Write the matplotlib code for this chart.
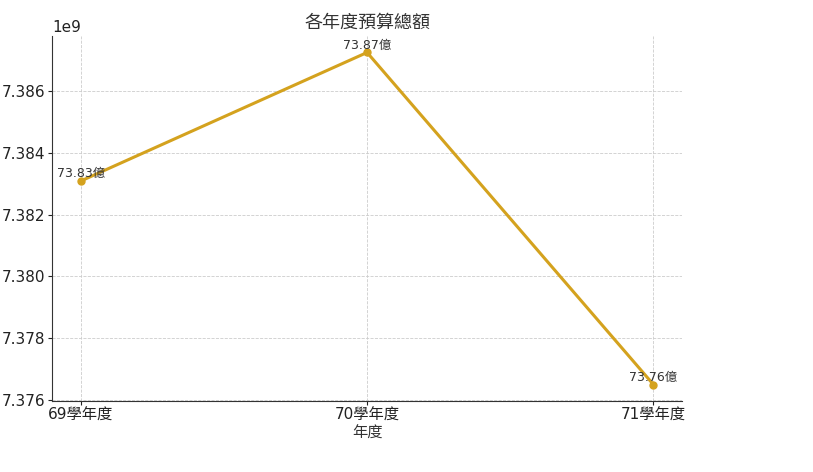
import matplotlib
matplotlib.use("Agg")
import matplotlib.pyplot as plt

plt.rcParams["font.family"] = ["DejaVu Sans", "Noto Sans CJK TC"]

years = ["69學年度", "70學年度", "71學年度"]
totals = [7383090000, 7387260000, 7376490000]
labels = ["73.83億", "73.87億", "73.76億"]

fig = plt.figure(figsize=(8.13, 4.72), dpi=100)
ax = fig.add_axes([0.064, 0.150, 0.775, 0.774])

ax.plot(years, totals, color="#d4a21e", lw=2.2, marker="o", ms=5)
for i, (v, lab) in enumerate(zip(totals, labels)):
    ax.annotate(lab, (i, v), xytext=(0, 0.5), textcoords="offset points",
                ha="center", va="bottom", fontsize=9, color="#333333")

ax.set_title("各年度預算總額", fontsize=13, color="#333333")
ax.set_xlabel("年度", fontsize=11, color="#333333", labelpad=2)
ax.tick_params(labelsize=11, colors="#222222", length=3, pad=2)
ax.grid(True, ls="--", lw=0.6, color="#cccccc")
ax.spines["top"].set_visible(False)
ax.spines["right"].set_visible(False)
ax.spines["left"].set_color("#333333")
ax.spines["bottom"].set_color("#333333")
ax.yaxis.get_offset_text().set_fontsize(11)

fig.savefig("out.png", dpi=100)
